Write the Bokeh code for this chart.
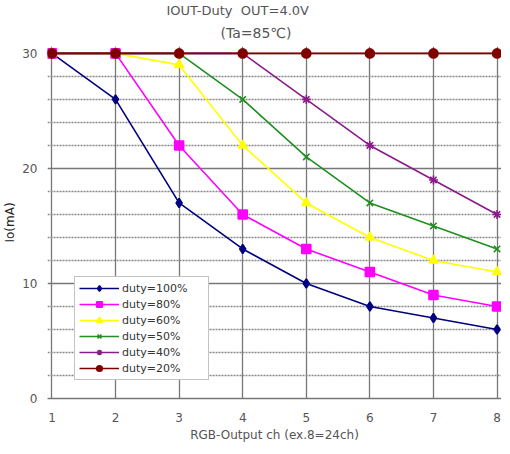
from bokeh.plotting import figure
from bokeh.models import Range1d, FixedTicker, Title, Legend, LegendItem, ColumnDataSource
from bokeh.embed import file_html
from bokeh.resources import INLINE

channels = [1, 2, 3, 4, 5, 6, 7, 8]
duty100 = [30, 26, 17, 13, 10, 8, 7, 6]
duty80 = [30, 30, 22, 16, 13, 11, 9, 8]
duty60 = [30, 30, 29, 22, 17, 14, 12, 11]
duty50 = [30, 30, 30, 26, 21, 17, 15, 13]
duty40 = [30, 30, 30, 30, 26, 22, 19, 16]
duty20 = [30, 30, 30, 30, 30, 30, 30, 30]

series_names = ["duty=100%", "duty=80%", "duty=60%", "duty=50%", "duty=40%", "duty=20%"]
series_values = [duty100, duty80, duty60, duty50, duty40, duty20]
series_colors = ["#000080", "#ff00ff", "#ffff00", "#1f8f1f", "#8b1a8b", "#800000"]
series_markers = ["diamond", "square", "triangle", "x", "asterisk", "circle"]
series_sizes = [9, 9, 9, 9, 9, 9]

y_major = [0, 10, 20, 30]
y_minor = [2, 4, 6, 8, 12, 14, 16, 18, 22, 24, 26, 28]

FONT = "DejaVu Sans"

p = figure(frame_width=454, frame_height=352, output_backend="svg", toolbar_location=None,
           x_range=Range1d(0.93, 8.07), y_range=Range1d(0, 30.6),
           min_border_left=40, min_border_right=0, min_border_top=46, min_border_bottom=48)
p.outline_line_color = None
p.background_fill_color = "white"

p.add_layout(Title(text="(Ta=85\u2103)", align="left", offset=173, text_font=FONT,
                   text_font_size="14px", text_font_style="normal", text_color="#555555",
                   standoff=11), "above")
p.add_layout(Title(text="IOUT-Duty\u00a0\u00a0OUT=4.0V", align="left", offset=119, text_font=FONT,
                   text_font_size="13px", text_font_style="normal", text_color="#555555",
                   standoff=0), "above")

p.xaxis.ticker = FixedTicker(ticks=channels)
p.yaxis.ticker = FixedTicker(ticks=y_major, minor_ticks=y_minor)
p.xgrid.ticker = FixedTicker(ticks=channels)
p.ygrid.ticker = FixedTicker(ticks=y_major, minor_ticks=y_minor)

for ax in (p.xaxis, p.yaxis):
    ax.major_tick_line_color = None
    ax.minor_tick_line_color = None
    ax.major_label_text_font = FONT
    ax.major_label_text_font_size = "12px"
    ax.major_label_text_color = "#555555"
    ax.axis_label_text_font = FONT
    ax.axis_label_text_font_size = "12px"
    ax.axis_label_text_font_style = "normal"

p.yaxis.axis_line_color = None
p.xaxis.axis_line_color = "#777777"
p.xaxis.axis_line_width = 1.5
p.xaxis.major_label_standoff = 8
p.yaxis.major_label_standoff = 4
p.xaxis.axis_label = "RGB-Output ch (ex.8=24ch)"
p.xaxis.axis_label_text_color = "#555555"
p.xaxis.axis_label_standoff = 3
p.yaxis.axis_label = "Io(mA)"
p.yaxis.axis_label_text_color = "#222222"
p.yaxis.axis_label_standoff = 2

p.xgrid.grid_line_color = "#777777"
p.xgrid.grid_line_width = 1.3
p.ygrid.grid_line_color = "#777777"
p.ygrid.grid_line_width = 1.3
p.ygrid.minor_grid_line_color = "#888888"
p.ygrid.minor_grid_line_dash = "2 1"
p.ygrid.minor_grid_line_width = 1.3

items = []
for name, vals, col, mk, sz in zip(series_names, series_values, series_colors, series_markers, series_sizes):
    src = ColumnDataSource(dict(x=channels, y=vals))
    r1 = p.line("x", "y", source=src, line_color=col, line_width=1.6)
    r2 = p.scatter("x", "y", source=src, marker=mk, size=sz, line_color=col, fill_color=col, line_width=1.6)
    items.append(LegendItem(label=name, renderers=[r1, r2]))

legend = Legend(items=items, location=(27, 18), label_text_font=FONT, label_text_font_size="11px",
                label_text_color="#333333", glyph_width=40, glyph_height=14, label_height=14,
                label_width=82, spacing=2, padding=4, margin=0, label_standoff=3,
                border_line_color="#888888", border_line_width=1.2, background_fill_color="white",
                background_fill_alpha=1)
p.add_layout(legend, "center")

open("out.html", "w").write(file_html(p, INLINE))
